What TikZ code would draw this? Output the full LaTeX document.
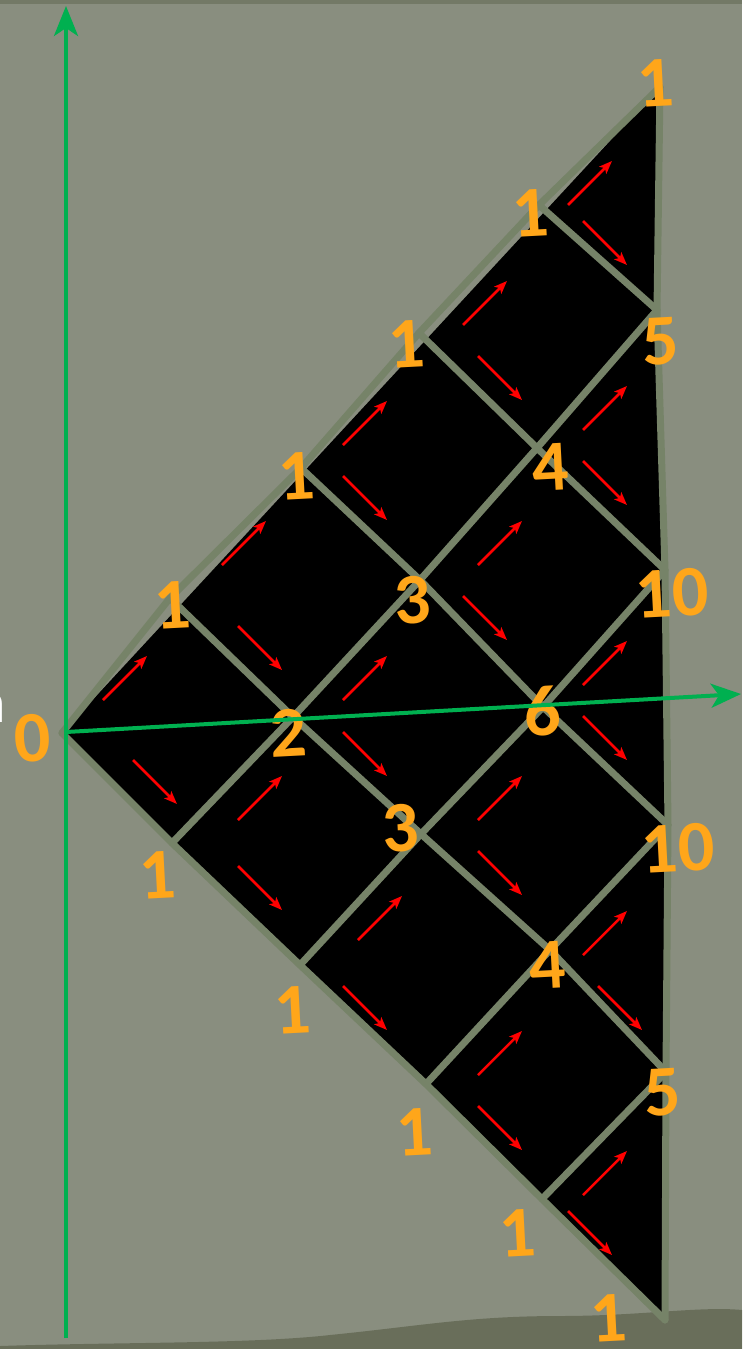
\documentclass[tikz,border=0pt]{standalone}
\usepackage{fontspec}
\setmainfont{Carlito}
\usetikzlibrary{arrows.meta}
\definecolor{bg}{RGB}{137,142,127}
\definecolor{bgdark}{RGB}{84,90,66}
\definecolor{gridc}{RGB}{118,131,104}
\definecolor{num}{RGB}{255,166,26}
\definecolor{axisc}{RGB}{0,176,80}
\begin{document}
\begin{tikzpicture}[x=1pt,y=-1pt,
  gridline/.style={draw=gridc,line width=7pt,line cap=round,line join=round},
  numlab/.style={text=num,font=\bfseries\fontsize{72}{72}\selectfont,inner sep=0pt,rotate=3},
  redarrow/.style={draw=red,line width=2.5pt,-{Stealth[length=13pt,width=10pt,inset=3pt]}},
  axisline/.style={draw=axisc,line width=4pt,-{Stealth[length=30pt,width=24pt,inset=8pt]}}]
\fill[bg] (0,0) rectangle (742,1349);
\useasboundingbox (0,0) rectangle (742,1349);
\fill[bgdark,opacity=0.6] (0,1349) -- (0,1346) .. controls (120,1342) and (250,1344) .. (330,1335)
  .. controls (420,1326) and (470,1316) .. (560,1316) .. controls (640,1316) and (700,1306) .. (742,1310) -- (742,1349) -- cycle;
\fill[bgdark,opacity=0.4] (0,0) rectangle (742,4);
% lattice vertices
\coordinate (O) at (62,733);
\coordinate (U1) at (170,598);
\coordinate (U2) at (301,468);
\coordinate (U3) at (419,333);
\coordinate (U4) at (539,205);
\coordinate (A) at (660,87);
\coordinate (L1) at (172,843);
\coordinate (L2) at (300,965);
\coordinate (L3) at (426,1084);
\coordinate (L4) at (542,1199);
\coordinate (B) at (665,1320);
\coordinate (C11) at (293,717);
\coordinate (C21) at (420,580);
\coordinate (C12) at (421,834);
\coordinate (C31) at (537,448);
\coordinate (C22) at (543,707);
\coordinate (C13) at (550,950);
\coordinate (R41) at (657,310);
\coordinate (R32) at (665,570);
\coordinate (R23) at (668,825);
\coordinate (R14) at (666,1072);
% black triangle
\fill[black] (O) -- (A) -- (R41) -- (R32) -- (R23) -- (R14) -- (B) -- cycle;
% grid
\draw[gridline] (O) -- (U1) -- (U2) -- (U3) -- (U4) -- (A);
\draw[gridline] (L1) -- (C11) -- (C21) -- (C31) -- (R41);
\draw[gridline] (L2) -- (C12) -- (C22) -- (R32);
\draw[gridline] (L3) -- (C13) -- (R23);
\draw[gridline] (L4) -- (R14);
\draw[gridline] (O) -- (L1) -- (L2) -- (L3) -- (L4) -- (B);
\draw[gridline] (U1) -- (C11) -- (C12) -- (C13) -- (R14);
\draw[gridline] (U2) -- (C21) -- (C22) -- (R23);
\draw[gridline] (U3) -- (C31) -- (R32);
\draw[gridline] (U4) -- (R41);
\draw[gridline] (A) -- (R41) -- (R32) -- (R23) -- (R14) -- (B);
% red arrows
\foreach \x/\y in {103/700,222/565,238/820,343/445,343/700,358/940,463/325,478/565,478/820,478/1075,568/205,583/430,583/685,583/955,583/1195}
  \draw[redarrow] (\x,\y) -- ++(44,-44);
\foreach \x/\y in {133/760,238/626,238/866,343/476,343/732,343/986,478/356,463/596,478/851,478/1106,583/221,583/461,583/716,598/986,568/1211}
  \draw[redarrow] (\x,\y) -- ++(44,44);
% numbers
\node[numlab] (n0) at (32,738) {0};
\node[numlab] (nU1) at (172,605) {1};
\node[numlab] (nU2) at (296,476) {1};
\node[numlab] (nU3) at (406,344) {1};
\node[numlab] (nU4) at (530,213) {1};
\node[numlab] (nA) at (655,83) {1};
\node[numlab] (nR41) at (661,341) {5};
\node[numlab] (nC31) at (550,467) {4};
\node[numlab] (nC21) at (412,600) {3};
\node[numlab] (nR32) at (672,593) {10};
\node[numlab] (nC11) at (288,733) {2};
\node[numlab] (nC22) at (542,711) {6};
\node[numlab] (nC12) at (400,828) {3};
\node[numlab] (nR23) at (678,848) {10};
\node[numlab] (nL1) at (157,875) {1};
\node[numlab] (nC13) at (547,965) {4};
\node[numlab] (nL2) at (292,1010) {1};
\node[numlab] (nR14) at (663,1092) {5};
\node[numlab] (nL3) at (414,1132) {1};
\node[numlab] (nL4) at (517,1233) {1};
\node[numlab] (nL5) at (608,1318) {1};
% cut-off white letter at the left border
\node[text=white,font=\fontsize{60}{60}\selectfont,inner sep=0pt,anchor=base east] (cut) at (6,722) {n};
% axes
\coordinate (ybot) at (66,1338);
\coordinate (ytop) at (66,6);
\coordinate (xorig) at (66,732);
\coordinate (xtip) at (741,694);
\draw[axisline] (ybot) -- (ytop);
\draw[axisline] (xorig) -- (xtip);
\end{tikzpicture}
\end{document}
